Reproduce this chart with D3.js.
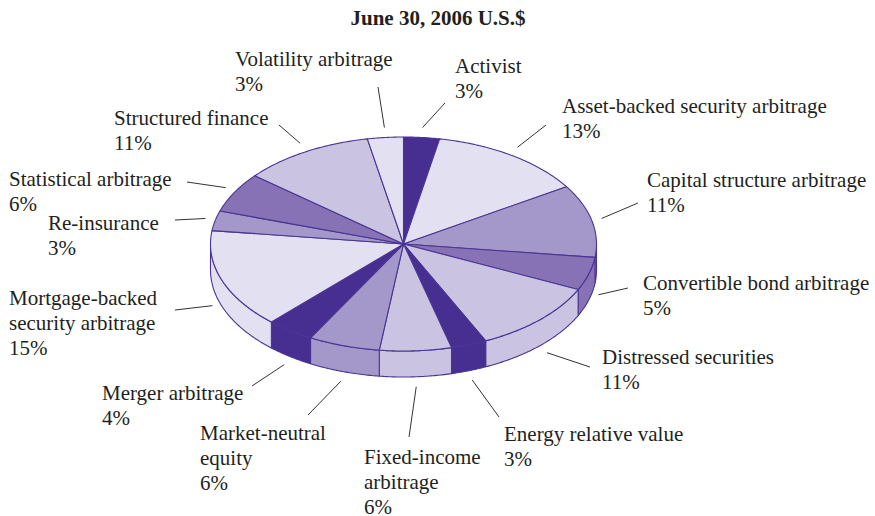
<!DOCTYPE html>
<html>
<head>
<meta charset="utf-8">
<script src="https://cdn.jsdelivr.net/npm/d3@7"></script>
<style>
  body { margin: 0; background: #fff; }
  svg { display: block; }
  text { font-family: "Liberation Serif", "Times New Roman", serif; fill: #231f20; }
</style>
</head>
<body>
<div id="chart"></div>
<script>
// Hedge fund strategies, share of assets (%), clockwise from 12 o'clock
const categories = [
    "Activist", "Asset-backed security arbitrage", "Capital structure arbitrage",
    "Convertible bond arbitrage", "Distressed securities", "Energy relative value",
    "Fixed-income arbitrage", "Market-neutral equity", "Merger arbitrage",
    "Mortgage-backed security arbitrage", "Re-insurance", "Statistical arbitrage",
    "Structured finance", "Volatility arbitrage"
];
const shares = [3, 13, 11, 5, 11, 3, 6, 6, 4, 15, 3, 6, 11, 3];

// slice fills, same order as categories
const fills = [
    "#472f92", "#e3e0f1", "#a497c9", "#8672b4", "#cac3e2", "#472f92", "#cac3e2",
    "#a497c9", "#472f92", "#e3e0f1", "#a497c9", "#8672b4", "#cac3e2", "#e3e0f1"
];

// label placement: text x, first baseline y, outer end of leader line, wrapped name
const labelLayout = [
    { x: 455, y: 73,  lx: 445, ly: 103 },
    { x: 562, y: 113, lx: 546, ly: 125 },
    { x: 647, y: 187, lx: 638, ly: 203 },
    { x: 643, y: 290, lx: 628, ly: 288 },
    { x: 602, y: 364, lx: 590, ly: 367 },
    { x: 504, y: 441, lx: 499, ly: 417 },
    { x: 364, y: 464, lx: 409, ly: 437, wrap: ["Fixed-income", "arbitrage"] },
    { x: 200, y: 440, lx: 308, ly: 415, wrap: ["Market-neutral", "equity"] },
    { x: 102, y: 400, lx: 252, ly: 386 },
    { x: 9,   y: 305, lx: 175, ly: 310, wrap: ["Mortgage-backed", "security arbitrage"] },
    { x: 48,  y: 230, lx: 175, ly: 220 },
    { x: 9,   y: 186, lx: 187, ly: 182 },
    { x: 114, y: 125, lx: 279, ly: 125 },
    { x: 235, y: 66,  lx: 378, ly: 87 }
];

const width = 875, height = 516;
const cx = 403.5, cy = 244, rx = 193, ry = 107, depth = 26;
const edge = "#4a3593";

const data = categories.map((c, i) => ({ name: c, value: shares[i], layout: labelLayout[i] }));
const color = d3.scaleOrdinal(categories, fills);

const svg = d3.select("#chart").append("svg")
    .attr("width", width)
    .attr("height", height);

svg.append("text")
    .attr("x", 438)
    .attr("y", 25)
    .attr("text-anchor", "middle")
    .attr("font-size", 21)
    .attr("font-weight", "bold")
    .text("June 30, 2006 U.S.$");

const pie = d3.pie().sort(null).value(d => d.value).startAngle(0).endAngle(2 * Math.PI);
const arcs = pie(data);

const px = a => cx + rx * Math.sin(a);
const py = a => cy - ry * Math.cos(a);
const line = d3.line();

function sample(a0, a1) {
    const n = Math.max(2, Math.ceil((a1 - a0) / 0.01));
    return d3.range(n + 1).map(k => a0 + (a1 - a0) * k / n);
}

// outer walls, only the front half (angles between 90 and 270 degrees)
const walls = arcs.filter(d => d.endAngle > Math.PI / 2 && d.startAngle < 3 * Math.PI / 2);
svg.append("g")
    .selectAll("path")
    .data(walls)
    .join("path")
    .attr("d", d => {
        const s = Math.max(d.startAngle, Math.PI / 2);
        const e = Math.min(d.endAngle, 3 * Math.PI / 2);
        const angles = sample(s, e);
        const top = angles.map(a => [px(a), py(a)]);
        const bottom = angles.slice().reverse().map(a => [px(a), py(a) + depth]);
        return line(top.concat(bottom)) + "Z";
    })
    .attr("fill", d => color(d.data.name))
    .attr("stroke", edge)
    .attr("stroke-width", 1.1)
    .attr("stroke-linejoin", "round");

// top faces
svg.append("g")
    .selectAll("path")
    .data(arcs)
    .join("path")
    .attr("d", d => {
        const pts = sample(d.startAngle, d.endAngle).map(a => [px(a), py(a)]);
        return line([[cx, cy]].concat(pts)) + "Z";
    })
    .attr("fill", d => color(d.data.name))
    .attr("stroke", edge)
    .attr("stroke-width", 1.1)
    .attr("stroke-linejoin", "round");

// leader lines from the rim at each slice's middle angle
const gap = 10;
svg.append("g")
    .attr("stroke", "#333")
    .attr("stroke-width", 1)
    .selectAll("line")
    .data(arcs)
    .join("line")
    .attr("x1", d => {
        const m = (d.startAngle + d.endAngle) / 2;
        return cx + (rx + gap) * Math.sin(m);
    })
    .attr("y1", d => {
        const m = (d.startAngle + d.endAngle) / 2;
        const c = Math.cos(m);
        const drop = c < 0 ? depth * Math.min(1, -c * 2.5) : 0;
        return cy - (ry + gap) * c + drop;
    })
    .attr("x2", d => d.data.layout.lx)
    .attr("y2", d => d.data.layout.ly);

// labels
const labels = svg.append("g")
    .selectAll("text")
    .data(arcs)
    .join("text")
    .attr("font-size", 21)
    .attr("x", d => d.data.layout.x)
    .attr("y", d => d.data.layout.y);

labels.each(function (d) {
    const lines = (d.data.layout.wrap || [d.data.name]).concat([d.data.value + "%"]);
    d3.select(this).selectAll("tspan")
        .data(lines)
        .join("tspan")
        .attr("x", d.data.layout.x)
        .attr("dy", (t, i) => i === 0 ? 0 : 25)
        .text(t => t);
});
</script>
</body>
</html>
